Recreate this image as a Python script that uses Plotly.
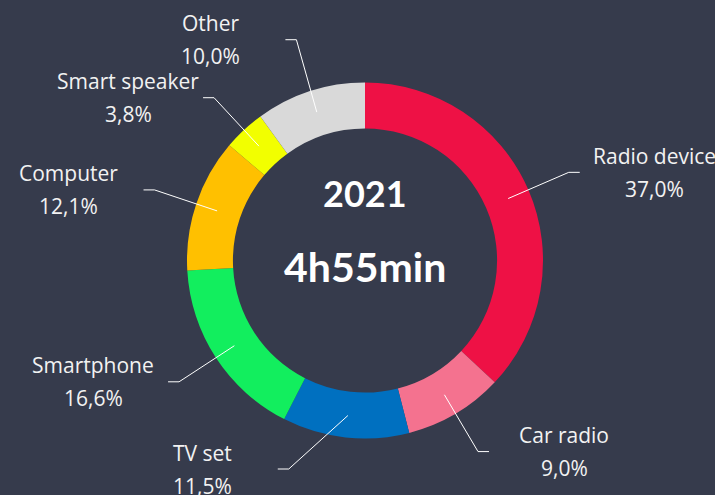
import math
import plotly.graph_objects as go

# ---- data ----
categories = ["Radio device", "Car radio", "TV set", "Smartphone", "Computer", "Smart speaker", "Other"]
shares = [37.0, 9.0, 11.5, 16.6, 12.1, 3.8, 10.0]
slice_colors = ["#EE1145", "#F4728F", "#0070C0", "#12EE5E", "#FFC000", "#F2FF00", "#D9D9D9"]
center_year = "2021"
center_time = "4h55min"

# ---- layout constants (pixels) ----
W, H = 715, 495
BG = "#363B4C"
cx, cy, R = 365, 260.5, 178
HOLE = 0.742
R_START, R_ELBOW, H_LEN, CENTER_OFF = 156, 222, 11, 75
Y_MIN, Y_MAX = 36, 469
MIN_SPACING = 58
LABEL_SIZE = 21
LABEL_FONT = "Open Sans"
TXT = "#F2F2F2"


def px(x):
    return x / W


def py(y):
    return 1 - y / H


fig = go.Figure()
fig.add_trace(go.Pie(
    labels=categories,
    values=shares,
    sort=False,
    direction="clockwise",
    rotation=0,
    hole=HOLE,
    marker=dict(colors=slice_colors, line=dict(width=0)),
    textinfo="none",
    hoverinfo="label+percent",
    showlegend=False,
    domain=dict(x=[px(cx - R), px(cx + R)], y=[py(cy + R), py(cy - R)]),
))

# ---- compute label anchor positions from slice angles ----
total = sum(shares)
cum = 0.0
items = []
for name, val in zip(categories, shares):
    mid = (cum + val / 2) / total * 2 * math.pi
    cum += val
    s, c = math.sin(mid), math.cos(mid)
    side = 1 if s >= 0 else -1
    raw_y = cy - R_ELBOW * c
    ey = min(max(raw_y, Y_MIN), Y_MAX)
    if ey != raw_y:
        ex = cx + side * math.sqrt(max(R_ELBOW ** 2 - (ey - cy) ** 2, 0))
    else:
        ex = cx + R_ELBOW * s
    items.append(dict(name=name, val=val, s=s, c=c, side=side, ex=ex, ey=ey))

# simple collision avoidance per side
for side in (1, -1):
    grp = sorted([it for it in items if it["side"] == side], key=lambda it: it["ey"])
    for a, b in zip(grp, grp[1:]):
        gap = b["ey"] - a["ey"]
        if gap < MIN_SPACING:
            if a["ey"] < cy:
                a["ey"] = max(b["ey"] - MIN_SPACING, Y_MIN)
            else:
                b["ey"] = min(a["ey"] + MIN_SPACING, Y_MAX)

shapes = []
annotations = []
line = dict(color="white", width=1)
for it in items:
    side, ex, ey = it["side"], it["ex"], it["ey"]
    sx, sy = cx + R_START * it["s"], cy - R_START * it["c"]
    hx = ex + side * H_LEN
    shapes.append(dict(type="line", xref="paper", yref="paper",
                       x0=px(sx), y0=py(sy), x1=px(ex), y1=py(ey), line=line, layer="above"))
    shapes.append(dict(type="line", xref="paper", yref="paper",
                       x0=px(ex), y0=py(ey), x1=px(hx), y1=py(ey), line=line, layer="above"))
    pct = f"{it['val']:.1f}".replace(".", ",") + "%"
    tx = hx + side * CENTER_OFF
    for txt, off in ((it["name"], -16.5), (pct, 16.5)):
        annotations.append(dict(
            x=px(tx), y=py(ey + off), xref="paper", yref="paper",
            text=txt, showarrow=False, xanchor="center", yanchor="middle",
            font=dict(family=LABEL_FONT, size=LABEL_SIZE, color=TXT),
        ))

annotations.append(dict(x=px(cx), y=py(193), xref="paper", yref="paper", text=f"<b>{center_year}</b>",
                        showarrow=False, xanchor="center", yanchor="middle",
                        font=dict(family="Lato", size=36, color="white")))
annotations.append(dict(x=px(cx), y=py(266), xref="paper", yref="paper", text=f"<b>{center_time}</b>",
                        showarrow=False, xanchor="center", yanchor="middle",
                        font=dict(family="Lato", size=41, color="white")))

fig.update_layout(
    width=W, height=H,
    margin=dict(l=0, r=0, t=0, b=0),
    paper_bgcolor=BG, plot_bgcolor=BG,
    shapes=shapes, annotations=annotations,
    showlegend=False,
)

fig.write_html("out.html", config={"displayModeBar": False},
               post_script="document.body.style.margin='0';document.body.style.background='%s';" % BG)
